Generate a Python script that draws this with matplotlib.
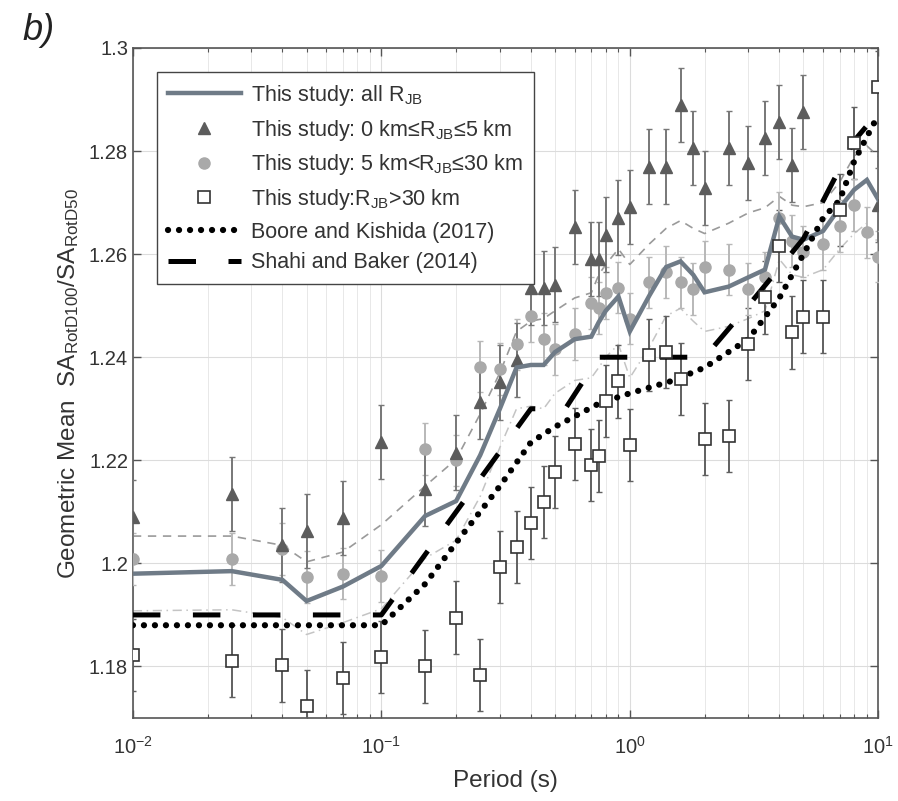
import numpy as np
import matplotlib
matplotlib.use('Agg')
import matplotlib.pyplot as plt
from matplotlib.ticker import FuncFormatter
from matplotlib.lines import Line2D

plt.rcParams['font.family'] = ['Liberation Sans', 'DejaVu Sans']
plt.rcParams['mathtext.fontset'] = 'custom'
plt.rcParams['mathtext.rm'] = 'Liberation Sans'
plt.rcParams['mathtext.it'] = 'Liberation Sans:italic'

nan = np.nan

# periods (s) of this study
periods = [0.01, 0.025, 0.04, 0.05, 0.07, 0.1, 0.15, 0.2, 0.25, 0.3, 0.35, 0.4, 0.45, 0.5,
           0.6, 0.7, 0.75, 0.8, 0.9, 1.0, 1.2, 1.4, 1.6, 1.8, 2.0, 2.5, 3.0, 3.5, 4.0, 4.5,
           5.0, 6.0, 7.0, 8.0, 9.0, 10.0]

# all R_JB geometric mean and thin band lines
mean_all = [1.1980, 1.1985, 1.1968, 1.1927, 1.1955, 1.1995, 1.2092, 1.2121, 1.2210, 1.2300,
            1.2380, 1.2385, 1.2385, 1.2410, 1.2435, 1.2440, 1.2468, 1.2490, 1.2518, 1.2450,
            1.2520, 1.2575, 1.2586, 1.2560, 1.2526, 1.2537, 1.2555, 1.2570, 1.2673, 1.2634,
            1.2628, 1.2645, 1.2690, 1.2725, 1.2744, 1.2706]
upper_all = [1.2053, 1.2053, 1.2035, 1.2003, 1.2022, 1.2075, 1.2150, 1.2202, 1.2290, 1.2370,
             1.2450, 1.2470, 1.2475, 1.2490, 1.2515, 1.2525, 1.2560, 1.2580, 1.2610, 1.2580,
             1.2620, 1.2650, 1.2665, 1.2650, 1.2640, 1.2660, 1.2680, 1.2690, 1.2712, 1.2695,
             1.2692, 1.2700, 1.2740, 1.2790, 1.2810, 1.2790]
lower_all = [1.1908, 1.1910, 1.1895, 1.1862, 1.1885, 1.1912, 1.2010, 1.2045, 1.2130, 1.2225,
             1.2300, 1.2305, 1.2300, 1.2330, 1.2355, 1.2360, 1.2380, 1.2400, 1.2425, 1.2360,
             1.2420, 1.2480, 1.2495, 1.2470, 1.2450, 1.2460, 1.2475, 1.2490, 1.2590, 1.2560,
             1.2555, 1.2570, 1.2610, 1.2640, 1.2660, 1.2620]

# 0 km <= R_JB <= 5 km
near = [1.2090, 1.2135, 1.2035, 1.2063, 1.2088, 1.2235, 1.2144, 1.2215, 1.2313, 1.2351,
        1.2395, 1.2535, 1.2535, 1.2541, 1.2653, 1.2590, 1.2590, 1.2638, 1.2671, 1.2692,
        1.2770, 1.2770, 1.2890, 1.2806, 1.2729, 1.2806, 1.2777, 1.2826, 1.2857, 1.2773,
        1.2876, nan, nan, nan, nan, 1.2696]
near_err = 0.0072

# 5 km < R_JB <= 30 km
mid = [1.2009, 1.2009, 1.2028, 1.1974, 1.1980, 1.1976, 1.2222, 1.2200, 1.2382, 1.2377,
       1.2425, 1.2480, 1.2435, 1.2415, 1.2445, 1.2505, 1.2495, 1.2525, 1.2535, 1.2475,
       1.2545, 1.2565, 1.2545, 1.2532, 1.2576, 1.2570, 1.2532, 1.2555, 1.2670, 1.2625,
       1.2605, 1.2620, 1.2655, 1.2695, 1.2642, 1.2595]
mid_err = 0.0050

# R_JB > 30 km
far = [1.1823, 1.1810, 1.1802, 1.1724, 1.1777, 1.1819, 1.1800, 1.1895, 1.1784, 1.1993,
       1.2032, 1.2078, 1.2119, 1.2177, 1.2231, 1.2191, 1.2208, 1.2315, 1.2353, 1.2230,
       1.2405, 1.2410, 1.2357, nan, 1.2241, 1.2247, 1.2425, 1.2516, 1.2615, 1.2448,
       1.2479, 1.2479, 1.2686, 1.2816, nan, 1.2924]
far_err = 0.0070

# Boore and Kishida (2017)
bk_T = [0.01, 0.1, 0.15, 0.2, 0.3, 0.4, 0.5, 0.75, 1.0, 1.5, 2.0, 3.0, 4.0, 5.0, 6.0, 7.0, 8.0, 10.0]
bk_v = [1.188, 1.188, 1.196, 1.204, 1.215, 1.2235, 1.2265, 1.231, 1.233, 1.2355, 1.238,
        1.2435, 1.2515, 1.260, 1.267, 1.2705, 1.278, 1.287]

# Shahi and Baker (2014)
sb_T = [0.01, 0.1, 0.4, 0.55, 0.75, 2.0, 3.0, 5.0, 8.0, 10.0]
sb_v = [1.19, 1.19, 1.23, 1.23, 1.24, 1.24, 1.25, 1.263, 1.282, 1.2875]

yticks = [1.18, 1.2, 1.22, 1.24, 1.26, 1.28, 1.3]

fig = plt.figure(figsize=(8.98, 8.01), dpi=100)
ax = fig.add_axes([0.148, 0.1036, 0.830, 0.8365])
ax.set_xscale('log')
ax.set_xlim(0.01, 10)
ax.set_ylim(1.17, 1.3)
ax.set_axisbelow(True)
ax.grid(True, which='major', color='#dcdcdc', lw=0.8)
ax.grid(True, which='minor', axis='x', color='#e8e8e8', lw=0.7)

# thin band lines
ax.plot(periods, upper_all, color='#9a9a9a', lw=1.2, ls=(0, (5, 4)), zorder=2)
ax.plot(periods, lower_all, color='#c4c4c4', lw=1.1, ls=(0, (6, 3, 1, 3)), zorder=2)

# error bars
ax.errorbar(periods, far, yerr=far_err, fmt='none', ecolor='#606060', elinewidth=1.4,
            capsize=2, zorder=3)
ax.errorbar(periods, mid, yerr=mid_err, fmt='none', ecolor='#b8b8b8', elinewidth=1.4,
            capsize=2, zorder=3)
ax.errorbar(periods, near, yerr=near_err, fmt='none', ecolor='#777777', elinewidth=1.4,
            capsize=2, zorder=3)

# mean line and reference models
ax.plot(periods, mean_all, color='#6f7b87', lw=3.2, zorder=6, solid_joinstyle='miter')
ax.plot(bk_T, bk_v, color='black', lw=4.5, ls=(0, (0.01, 1.75)), dash_capstyle='round',
        zorder=7)
ax.plot(sb_T, sb_v, color='black', lw=3.6, ls=(0, (5.5, 6.5)), zorder=7)

# markers
ax.plot(periods, mid, 'o', color='#a9a9a9', ms=8, ls='none', zorder=5)
ax.plot(periods, near, '^', color='#5c5c5c', ms=9, ls='none', zorder=5)
ax.plot(periods, far, 's', mfc='white', mec='#333333', mew=1.2, ms=8, ls='none', zorder=8)

handles = [
    Line2D([], [], color='#6f7b87', lw=3.2),
    Line2D([], [], marker='^', color='#5c5c5c', ms=9, ls='none'),
    Line2D([], [], marker='o', color='#a9a9a9', ms=8, ls='none'),
    Line2D([], [], marker='s', mfc='white', mec='#333333', mew=1.2, ms=8, ls='none'),
    Line2D([], [], color='black', lw=4.5, ls=(0, (0.01, 1.75)), dash_capstyle='round'),
    Line2D([], [], color='black', lw=3.6, ls=(0, (5.5, 6.5))),
]
labels = [
    'This study: all R$_{\\mathrm{JB}}$',
    'This study: 0 km\u2264R$_{\\mathrm{JB}}$\u22645 km',
    'This study: 5 km<R$_{\\mathrm{JB}}$\u226430 km',
    'This study:R$_{\\mathrm{JB}}$>30 km',
    'Boore and Kishida (2017)',
    'Shahi and Baker (2014)',
]
leg = ax.legend(handles, labels, loc='upper left', bbox_to_anchor=(0.032, 0.964),
                borderaxespad=0, fancybox=False, edgecolor='#444444', framealpha=1,
                fontsize=15.5, handlelength=3.4, labelspacing=0.45, numpoints=1,
                borderpad=0.5, handletextpad=0.5)
leg.get_frame().set_linewidth(1.0)
leg.set_zorder(20)
for t in leg.get_texts():
    t.set_color('#333333')

ax.set_yticks(yticks)
ax.yaxis.set_major_formatter(FuncFormatter(lambda v, p: f'{v:g}'))
ax.tick_params(which='both', direction='in', top=True, right=True, colors='#555555',
               labelcolor='#333333', labelsize=14.5)
ax.tick_params(which='major', length=6, width=1)
ax.tick_params(which='minor', length=3, width=0.8)
ax.tick_params(axis='x', which='both', pad=13)
for s in ax.spines.values():
    s.set_color('#555555')
    s.set_linewidth(1.2)

ax.set_xlabel('Period (s)', fontsize=17.5, color='#333333', labelpad=9)
ax.set_ylabel('Geometric Mean  SA$_{\\mathrm{RotD100}}$/SA$_{\\mathrm{RotD50}}$',
              fontsize=17.5, color='#333333', labelpad=6)

fig.text(0.025, 0.962, 'b)', style='italic', fontsize=26, va='center', color='#222222')

fig.savefig('out.png', dpi=100)
